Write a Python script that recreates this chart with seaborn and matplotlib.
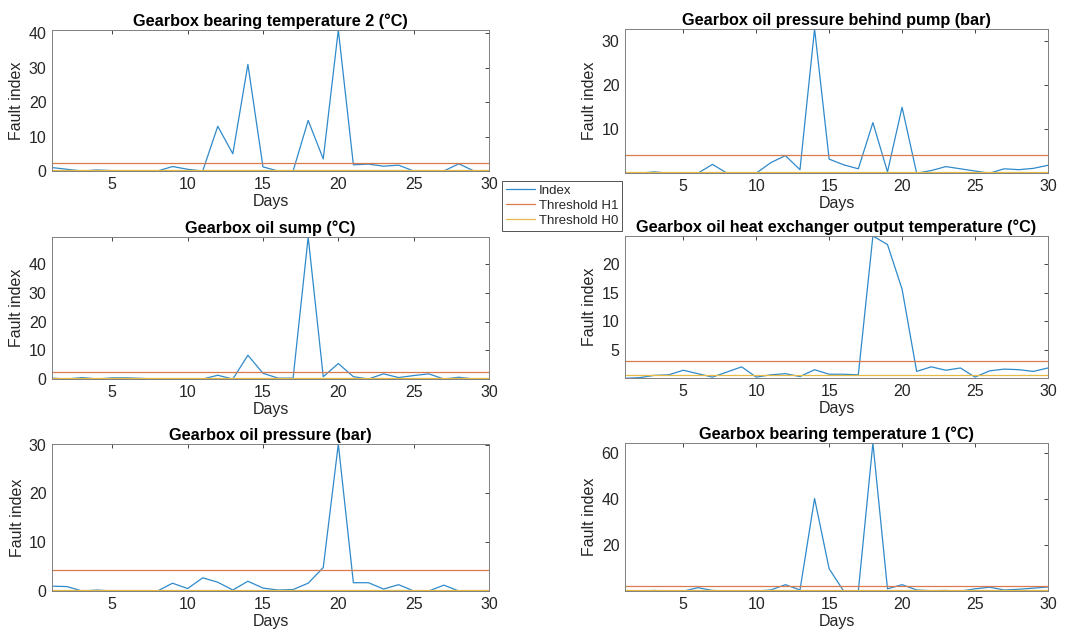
import numpy as np
import pandas as pd
import matplotlib
matplotlib.use("Agg")
import matplotlib.pyplot as plt
import seaborn as sns

days = list(range(1, 31))

titles = [
    "Gearbox bearing temperature 2 (°C)",
    "Gearbox oil pressure behind pump (bar)",
    "Gearbox oil sump (°C)",
    "Gearbox oil heat exchanger output temperature (°C)",
    "Gearbox oil pressure (bar)",
    "Gearbox bearing temperature 1 (°C)",
]

bearing_temp_2 = [1.0, 0.5, 0.0, 0.3, 0.1, 0.0, 0.0, 0.0, 1.3, 0.5,
                  0.0, 13.0, 5.0, 31.0, 1.2, 0.0, 0.0, 14.7, 3.5, 41.0,
                  1.8, 2.0, 1.4, 1.7, 0.0, 0.0, 0.0, 2.1, 0.0, 0.0]
oil_pressure_pump = [0.0, 0.0, 0.3, 0.0, 0.0, 0.0, 2.0, 0.0, 0.0, 0.0,
                     2.4, 4.0, 0.8, 32.8, 3.2, 1.9, 1.0, 11.5, 0.3, 15.0,
                     0.0, 0.6, 1.5, 1.0, 0.5, 0.0, 1.0, 0.8, 1.1, 1.8]
oil_sump = [0.3, 0.0, 0.5, 0.0, 0.4, 0.4, 0.2, 0.0, 0.0, 0.0,
            0.0, 1.3, 0.0, 8.3, 2.0, 0.3, 0.3, 49.6, 0.8, 5.4,
            0.8, 0.0, 1.8, 0.5, 1.2, 1.8, 0.0, 0.6, 0.0, 0.0]
heat_exchanger = [0.0, 0.1, 0.5, 0.6, 1.4, 0.8, 0.2, 1.1, 2.0, 0.2,
                  0.6, 0.8, 0.3, 1.5, 0.7, 0.7, 0.6, 24.9, 23.4, 15.6,
                  1.2, 2.0, 1.4, 1.8, 0.2, 1.3, 1.6, 1.5, 1.2, 1.8]
oil_pressure = [1.0, 0.9, 0.0, 0.2, 0.0, 0.0, 0.0, 0.0, 1.6, 0.5,
                2.7, 1.8, 0.2, 2.0, 0.6, 0.2, 0.3, 1.6, 4.8, 30.1,
                1.7, 1.7, 0.4, 1.3, 0.0, 0.0, 1.2, 0.0, 0.0, 0.0]
bearing_temp_1 = [0.2, 0.0, 0.3, 0.0, 0.0, 1.5, 0.3, 0.0, 0.0, 0.0,
                  0.5, 2.8, 0.5, 40.2, 9.7, 0.0, 0.0, 64.3, 1.0, 2.8,
                  0.5, 0.2, 0.3, 0.0, 1.0, 1.7, 0.5, 0.8, 1.3, 1.8]

index_series = [bearing_temp_2, oil_pressure_pump, oil_sump,
                heat_exchanger, oil_pressure, bearing_temp_1]

threshold_h1 = [2.3, 4.1, 2.3, 3.1, 4.4, 2.3]
threshold_h0 = [0.3, 0.2, 0.2, 0.5, 0.3, 0.3]

ytick_sets = [[0, 10, 20, 30, 40], [10, 20, 30], [0, 10, 20, 30, 40],
              [5, 10, 15, 20], [0, 10, 20, 30], [20, 40, 60]]
ylim_low = [0.0, 0.05, 0.0, 0.05, 0.0, 0.05]

series_names = ["Index", "Threshold H1", "Threshold H0"]
palette = {"Index": "#2f8acb", "Threshold H1": "#dc7a4e", "Threshold H0": "#e6bb45"}

sns.set_theme(style="white")
plt.rcParams["font.family"] = ["Liberation Sans", "DejaVu Sans"]

fig = plt.figure(figsize=(10.79, 6.39), dpi=100)

positions = [
    [0.0482, 0.7324, 0.405, 0.2207],
    [0.5792, 0.7293, 0.392, 0.2254],
    [0.0482, 0.4069, 0.405, 0.2222],
    [0.5792, 0.4085, 0.392, 0.2222],
    [0.0482, 0.0751, 0.405, 0.2300],
    [0.5792, 0.0751, 0.392, 0.2316],
]

text_color = "#262626"
for i in range(6):
    ax = fig.add_axes(positions[i])
    frame = pd.concat([
        pd.DataFrame({"Days": days, "value": index_series[i], "series": "Index"}),
        pd.DataFrame({"Days": days, "value": [threshold_h1[i]] * len(days), "series": "Threshold H1"}),
        pd.DataFrame({"Days": days, "value": [threshold_h0[i]] * len(days), "series": "Threshold H0"}),
    ], ignore_index=True)
    sns.lineplot(data=frame, x="Days", y="value", hue="series", hue_order=series_names,
                 palette=palette, linewidth=0.9, ax=ax, legend=(i == 0))
    ax.set_xlim(1, 30)
    ax.set_ylim(ylim_low[i], max(index_series[i]))
    ax.set_xticks([5, 10, 15, 20, 25, 30])
    ax.set_yticks(ytick_sets[i])
    ax.tick_params(direction="in", length=3, width=0.6, top=True, right=True,
                   labelsize=11.5, colors=text_color, pad=4)
    for spine in ax.spines.values():
        spine.set_color("#7f7f7f")
        spine.set_linewidth(0.7)
    ax.set_xlabel("Days", fontsize=11.5, color=text_color, labelpad=2)
    ax.set_ylabel("Fault index", fontsize=11.5, color=text_color, labelpad=3)
    ax.set_title(titles[i], fontsize=11.7, fontweight="bold", color="black", pad=3)
    if i == 0:
        handles, labels = ax.get_legend_handles_labels()
        ax.get_legend().remove()

leg = fig.legend(handles, labels, loc="upper left", bbox_to_anchor=(0.465, 0.717),
                 fontsize=9.5, frameon=True, fancybox=False, handlelength=2.2,
                 handletextpad=0.3, borderpad=0.3, labelspacing=0.2, borderaxespad=0)
leg.get_frame().set_edgecolor("#262626")
leg.get_frame().set_linewidth(0.7)
for line in leg.get_lines():
    line.set_linewidth(0.9)

fig.savefig("out.png", dpi=100)
